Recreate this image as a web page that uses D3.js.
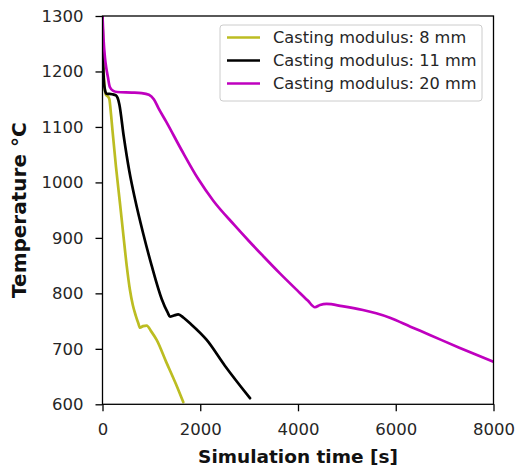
<!DOCTYPE html>
<html><head><meta charset="utf-8">
<script src="https://cdn.jsdelivr.net/npm/d3@7"></script>
<style>body{margin:0;background:#fff}svg{display:block}</style>
</head><body>
<script>
const xTicks = [0, 2000, 4000, 6000, 8000];
const yTicks = [600, 700, 800, 900, 1000, 1100, 1200, 1300];
const seriesNames = ["Casting modulus: 8 mm", "Casting modulus: 11 mm", "Casting modulus: 20 mm"];
const seriesColors = ["#bcbd22", "#000000", "#bf00bf"];
const mod8 = [[0,1300],[15,1220],[40,1175],[70,1158],[110,1155],[140,1150],[175,1122],[208,1090],[276,1028],[358,962],[426,906],[495,850],[560,807],[620,779],[680,760],[733,746],[767,738],[830,741],[904,742],[1000,731],[1108,716],[1300,677],[1500,637],[1652,604]];
const mod11 = [[0,1300],[15,1210],[40,1172],[80,1160],[200,1159],[276,1157],[310,1152],[344,1141],[433,1084],[549,1020],[665,970],[835,907],[1006,850],[1211,790],[1330,766],[1381,758],[1460,760],[1551,762],[1660,756],[1790,746],[2132,716],[2500,670],[3018,611]];
const mod20 = [[0,1300],[20,1260],[50,1225],[80,1205],[110,1190],[150,1172],[220,1165],[300,1163],[600,1162],[800,1161],[950,1158],[1050,1150],[1150,1133],[1300,1110],[1620,1058],[1960,1006],[2267,967],[2700,923],[3000,894],[3300,866],[3630,836],[4000,804],[4200,787],[4346,775],[4450,779],[4585,781],[4900,777],[5327,770],[5600,764],[5880,756],[6300,740],[6697,725],[7300,702],[7986,677]];
const series = [mod8, mod11, mod20];

const W = 516, H = 469;
const m = {left: 102.5, right: 493.5, top: 16, bottom: 404.3};
const svg = d3.select("body").append("svg").attr("width", W).attr("height", H);
const x = d3.scaleLinear().domain([0, 8000]).range([m.left, m.right]);
const y = d3.scaleLinear().domain([600, 1300]).range([m.bottom, m.top]);

const line = d3.line().x(d => x(d[0])).y(d => y(d[1])).curve(d3.curveMonotoneX);
svg.append("clipPath").attr("id","c").append("rect")
  .attr("x", m.left).attr("y", m.top).attr("width", m.right-m.left).attr("height", m.bottom-m.top);
const g = svg.append("g").attr("clip-path","url(#c)");
series.forEach((s,i) => {
  g.append("path").datum(s).attr("d", line).attr("fill","none")
   .attr("stroke", seriesColors[i]).attr("stroke-width", 2.7).attr("stroke-linejoin","round").attr("stroke-linecap","round");
});

// frame
svg.append("rect").attr("x", m.left).attr("y", m.top).attr("width", m.right-m.left).attr("height", m.bottom-m.top)
  .attr("fill","none").attr("stroke","#000").attr("stroke-width",1.3);

const font = "DejaVu Sans";
const xa = svg.append("g").attr("transform", `translate(0,${m.bottom})`)
  .call(d3.axisBottom(x).tickValues(xTicks).tickFormat(d3.format("d")).tickSize(7).tickPadding(12));
const ya = svg.append("g").attr("transform", `translate(${m.left},0)`)
  .call(d3.axisLeft(y).tickValues(yTicks).tickFormat(d3.format("d")).tickSize(7).tickPadding(12));
[xa, ya].forEach(a => {
  a.select(".domain").remove();
  a.selectAll(".tick line").attr("stroke","#000").attr("stroke-width",1.3);
  a.selectAll(".tick text").attr("font-family", font).attr("font-size", 16.5).attr("fill","#262626");
});

svg.append("text").attr("x", (m.left+m.right)/2).attr("y", 463).attr("text-anchor","middle")
  .attr("font-family", font).attr("font-weight","bold").attr("font-size", 18.5).attr("fill","#111")
  .text("Simulation time [s]");
svg.append("text").attr("transform", `translate(26,${(m.top+m.bottom)/2}) rotate(-90)`).attr("text-anchor","middle")
  .attr("font-family", font).attr("font-weight","bold").attr("font-size", 20).attr("fill","#111")
  .text("Temperature °C");

// legend
const lg = svg.append("g");
lg.append("rect").attr("x", 220).attr("y", 25).attr("width", 262).attr("height", 76).attr("rx", 3)
  .attr("fill","#fff").attr("fill-opacity",0.85).attr("stroke","#ccc").attr("stroke-width",1);
seriesNames.forEach((n,i) => {
  const yy = 37.5 + i*23;
  lg.append("line").attr("x1", 227).attr("x2", 260).attr("y1", yy).attr("y2", yy)
    .attr("stroke", seriesColors[i]).attr("stroke-width", 2.7);
  lg.append("text").attr("x", 273).attr("y", yy).attr("dy","0.36em")
    .attr("font-family", font).attr("font-size", 16.2).attr("fill","#262626").text(n);
});
</script>
</body></html>
